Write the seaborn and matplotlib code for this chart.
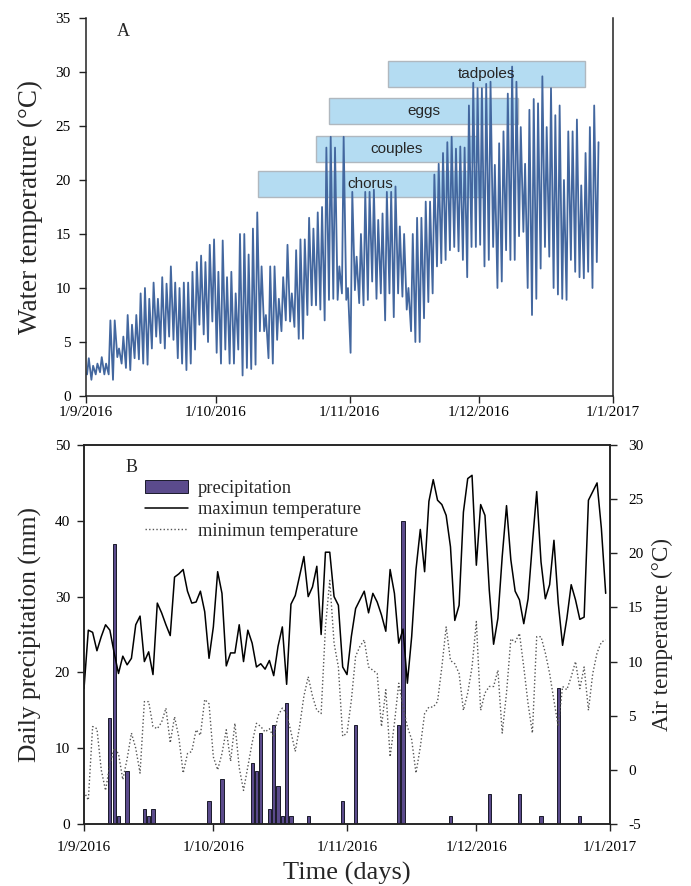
import numpy as np
import pandas as pd
import matplotlib
matplotlib.use("Agg")
import matplotlib.pyplot as plt
import matplotlib.dates as mdates
from matplotlib.patches import Patch, Rectangle
from matplotlib.lines import Line2D
from matplotlib.ticker import FuncFormatter
import seaborn as sns

sns.set_style("ticks")
plt.rcParams['font.family'] = ['Liberation Serif', 'DejaVu Serif']
plt.rcParams['axes.unicode_minus'] = False

start = "2016-09-01"

# panel A: daily minimum / maximum water temperature (deg C), from 1 Sep
water_min = [2.0, 1.5, 2.0, 2.2, 2.0, 2.0, 1.5, 3.6, 3.0, 2.6,
             2.4, 3.5, 3.4, 3.0, 2.9, 4.4, 5.5, 4.9, 4.4, 5.5,
             5.2, 3.5, 3.0, 2.4, 3.0, 4.3, 6.6, 5.7, 5.0, 6.9,
             4.0, 3.0, 4.3, 3.0, 3.0, 4.3, 1.9, 2.6, 2.5, 2.9,
             6.0, 6.0, 3.5, 3.0, 5.2, 6.0, 7.0, 6.9, 6.4, 5.3,
             5.3, 7.5, 8.4, 8.4, 8.0, 7.0, 8.9, 9.0, 8.9, 9.5,
             8.9, 4.0, 9.8, 8.6, 8.4, 8.9, 10.6, 9.0, 9.5, 7.0,
             9.5, 7.3, 9.5, 9.2, 8.0, 6.0, 5.0, 5.0, 7.2, 8.7,
             9.5, 12.0, 12.3, 12.6, 13.5, 13.8, 13.4, 12.6, 11.0, 13.8,
             13.8, 14.0, 12.0, 12.6, 13.8, 10.0, 10.6, 13.5, 12.6, 12.6,
             14.8, 15.2, 10.0, 7.5, 9.0, 11.8, 13.8, 12.9, 10.0, 9.4,
             9.0, 8.9, 12.6, 11.5, 11.0, 10.9, 11.5, 10.0, 12.4]
water_max = [3.5, 2.8, 3.0, 3.6, 3.0, 7.0, 7.0, 4.4, 5.5, 7.5,
             6.6, 7.5, 9.5, 10.0, 9.0, 10.5, 9.0, 11.0, 10.4, 12.0,
             10.5, 10.0, 10.5, 10.5, 11.5, 12.4, 13.0, 12.4, 14.0, 14.5,
             11.5, 14.4, 11.0, 11.5, 9.5, 15.0, 15.0, 13.1, 15.5, 17.0,
             12.0, 7.5, 12.0, 12.0, 9.0, 11.0, 14.0, 9.5, 13.5, 14.5,
             14.5, 16.5, 15.5, 17.0, 17.5, 23.0, 24.0, 23.0, 12.0, 24.0,
             10.0, 18.9, 12.9, 15.0, 18.9, 18.9, 19.1, 16.3, 16.9, 18.9,
             18.9, 19.4, 15.7, 15.0, 10.0, 15.0, 16.5, 16.5, 18.0, 18.0,
             20.5, 21.5, 22.5, 23.5, 24.0, 22.9, 23.1, 23.0, 26.9, 29.0,
             28.5, 28.5, 28.9, 29.1, 21.4, 23.4, 24.5, 28.0, 30.5, 29.1,
             24.9, 21.5, 26.5, 27.5, 27.1, 29.6, 24.9, 28.5, 26.0, 26.9,
             20.0, 24.5, 24.5, 25.6, 19.5, 22.5, 24.9, 26.9, 23.5]

# breeding stages: start/end in days after 1 Sep, temperature band
stages = ["chorus", "couples", "eggs", "tadpoles"]
stage_from = [39.8, 53.3, 56.3, 70.0]
stage_to = [91.8, 90.5, 100.0, 115.6]
stage_low = [18.4, 21.7, 25.2, 28.6]
stage_high = [20.8, 24.1, 27.6, 31.0]

# panel B: daily air temperature (deg C)
air_max = [7.5, 12.9, 12.7, 11.0, 12.3, 13.4, 12.9, 10.8, 8.9, 10.5,
           9.7, 10.3, 13.4, 14.2, 10.0, 10.9, 8.8, 15.4, 14.5, 13.4,
           12.4, 17.8, 18.1, 18.5, 16.5, 15.4, 15.5, 16.5, 14.6, 10.3,
           13.2, 18.3, 16.3, 9.6, 10.8, 10.8, 13.4, 10.0, 12.9, 11.7,
           9.5, 9.8, 9.3, 10.1, 8.7, 11.4, 13.2, 7.9, 15.3, 16.1,
           17.9, 19.7, 16.0, 16.9, 18.8, 12.5, 20.1, 20.1, 16.0, 15.2,
           9.5, 8.8, 12.3, 14.9, 15.7, 16.5, 14.5, 16.3, 15.5, 14.3,
           12.8, 18.5, 16.3, 11.7, 13.0, 8.0, 12.3, 18.5, 22.2, 18.3,
           24.8, 26.8, 24.9, 24.5, 23.5, 20.6, 13.8, 15.2, 23.8, 26.9,
           27.2, 18.9, 24.5, 23.5, 16.6, 11.6, 14.0, 19.7, 24.4, 19.4,
           16.5, 15.7, 13.5, 15.8, 20.9, 25.7, 19.2, 15.8, 17.1, 21.2,
           15.4, 11.5, 14.0, 17.1, 15.7, 13.9, 14.1, 24.9, 25.7, 26.5,
           22.3, 16.3]
air_min = [-2.0, -2.8, 4.0, 3.8, 0.0, -1.9, 0.5, 2.0, 1.5, -0.9,
           1.0, 3.4, 2.0, -0.3, 6.3, 6.3, 4.0, 3.8, 4.4, 5.7,
           2.5, 4.9, 3.0, -0.3, 1.5, 1.7, 3.7, 3.2, 6.5, 6.1,
           1.2, 0.0, 1.5, 3.7, 0.8, 4.3, 0.2, -1.9, 0.3, 2.5,
           4.3, 4.0, 3.5, 3.8, 3.0, 5.0, 5.7, 5.2, 3.5, 1.7,
           4.0, 6.8, 8.6, 6.8, 5.5, 5.2, 13.2, 17.5, 11.7, 9.5,
           3.1, 3.4, 6.4, 10.5, 11.4, 12.0, 9.5, 9.2, 8.9, 4.0,
           7.4, 1.2, 4.3, 8.0, 5.8, 4.0, 2.8, -0.3, 2.1, 5.2,
           5.8, 5.8, 6.3, 9.5, 13.2, 10.1, 9.8, 8.9, 5.5, 7.1,
           9.5, 13.7, 5.5, 7.1, 7.7, 7.7, 9.2, 3.4, 7.1, 12.1,
           11.8, 12.6, 9.5, 6.1, 3.4, 12.3, 12.3, 10.8, 8.9, 6.4,
           4.0, 7.7, 7.4, 8.6, 10.0, 7.5, 9.5, 5.5, 8.9, 10.8,
           11.8, 12.0]

# daily precipitation (mm): day after 1 Sep and amount
rain_day = [6, 7, 8, 10, 14, 15, 16, 29, 32, 39, 40, 41, 43, 44, 45, 46,
            47, 48, 52, 60, 63, 73, 74, 85, 94, 101, 106, 110, 115]
rain_mm = [14, 37, 1, 7, 2, 1, 2, 3, 6, 8, 7, 12, 2, 13, 5, 1,
           16, 1, 1, 3, 13, 13, 40, 1, 4, 4, 1, 18, 1]

t0 = pd.Timestamp(start)
t_end = pd.Timestamp("2017-01-01")

days = pd.date_range(start, periods=len(water_max), freq="D")
water = pd.concat([
    pd.DataFrame({"time": days + pd.Timedelta(hours=6), "temp": water_min}),
    pd.DataFrame({"time": days + pd.Timedelta(hours=15.5), "temp": water_max}),
]).sort_values("time")

air = pd.DataFrame({"time": pd.date_range(start, periods=len(air_max), freq="D"),
                    "tmax": air_max, "tmin": air_min})
rain = pd.DataFrame({"time": t0 + pd.to_timedelta(rain_day, unit="D"),
                     "mm": rain_mm})

tick_font = 11
spine_col = "#222222"


def date_label(x, pos):
    d = mdates.num2date(x)
    return f"{d.day}/{d.month}/{d.year}"


def style_axis(ax):
    for sp in ax.spines.values():
        sp.set_color(spine_col)
        sp.set_linewidth(1.1)
    ax.tick_params(colors=spine_col, labelcolor="black", length=5,
                   width=1, labelsize=tick_font)
    ax.xaxis.set_major_locator(mdates.MonthLocator())
    ax.xaxis.set_major_formatter(FuncFormatter(date_label))
    ax.set_xlim(t0, t_end)


fig = plt.figure(figsize=(6.91, 8.86), dpi=100)
axA = fig.add_axes([86 / 691, 1 - 396 / 886, 527 / 691, 378 / 886])
axB = fig.add_axes([84 / 691, 1 - 824 / 886, 526 / 691, 379 / 886])

# ---- panel A ----
for name, a, b, lo, hi in zip(stages, stage_from, stage_to, stage_low, stage_high):
    x0 = mdates.date2num(t0 + pd.Timedelta(days=a))
    axA.add_patch(Rectangle((x0, lo), b - a, hi - lo, facecolor="#b4dcf2",
                            edgecolor="#b0b8bf", lw=1.0, zorder=1))
    axA.text(x0 + (b - a) / 2, (lo + hi) / 2, name, ha="center", va="center",
             fontsize=11, family=["Liberation Sans", "DejaVu Sans"], zorder=4)

sns.lineplot(data=water, x="time", y="temp", ax=axA, color="#43679f",
             lw=1.3, estimator=None, sort=False, zorder=2)
axA.set_ylim(0, 35)
axA.set_yticks(np.arange(0, 36, 5))
style_axis(axA)
axA.spines["top"].set_visible(False)
axA.tick_params(axis="y", pad=6)
axA.tick_params(axis="x", pad=2)
axA.set_xlabel("")
axA.set_ylabel("Water temperature (°C)", fontsize=19.5, labelpad=9)
axA.text(0.07, 0.965, "A", transform=axA.transAxes, fontsize=13,
         ha="center", va="center")

# ---- panel B ----
axB2 = axB.twinx()
axB.bar(rain["time"], rain["mm"], width=0.75, color="#5b4b8c",
        edgecolor="#1a1a2a", lw=0.7, zorder=2)
sns.lineplot(data=air, x="time", y="tmax", ax=axB2, color="black", lw=1.1,
             estimator=None, sort=False)
sns.lineplot(data=air, x="time", y="tmin", ax=axB2, color="#555555", lw=1.0,
             ls=(0, (1, 1.6)), estimator=None, sort=False)
axB.set_ylim(0, 50)
axB.set_yticks(np.arange(0, 51, 10))
axB2.set_ylim(-5, 30)
axB2.set_yticks(np.arange(-5, 31, 5))
style_axis(axB)
style_axis(axB2)
axB.tick_params(axis="y", pad=5)
axB2.tick_params(axis="y", pad=8)
axB.tick_params(axis="x", pad=7)
axB.set_xlabel("Time (days)", fontsize=19, labelpad=6)
axB2.set_xlabel("")
axB.set_ylabel("Daily precipitation (mm)", fontsize=18.4, labelpad=9)
axB2.set_ylabel("Air temperature (°C)", fontsize=16.7, labelpad=6)
axB2.text(0.09, 0.94, "B", transform=axB2.transAxes, fontsize=13,
          ha="center", va="center")

handles = [Patch(facecolor="#5b4b8c", edgecolor="#1a1a2a", lw=0.7),
           Line2D([], [], color="black", lw=1.1),
           Line2D([], [], color="#555555", lw=1.0, ls=(0, (1, 1.6)))]
labels = ["precipitation", "maximun temperature", "minimun temperature"]
axB2.legend(handles, labels, loc="upper left", bbox_to_anchor=(0.116, 0.908),
            frameon=False, fontsize=13.3, handlelength=2.3, handleheight=0.7,
            handletextpad=0.55, labelspacing=0.24, borderpad=0,
            borderaxespad=0)

fig.savefig("out.png", dpi=100)
